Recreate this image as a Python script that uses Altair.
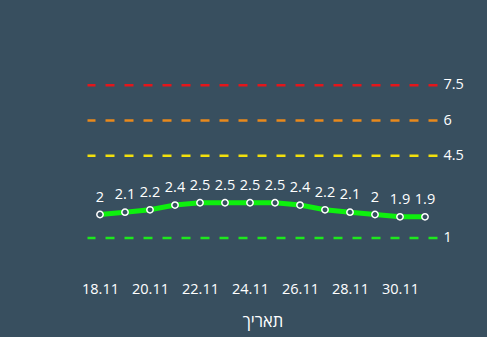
import altair as alt
import pandas as pd

dates = ["18.11", "19.11", "20.11", "21.11", "22.11", "23.11", "24.11",
         "25.11", "26.11", "27.11", "28.11", "29.11", "30.11", "1.12"]
values = [2, 2.1, 2.2, 2.4, 2.5, 2.5, 2.5, 2.5, 2.4, 2.2, 2.1, 2, 1.9, 1.9]
tick_labels = ["18.11", "20.11", "22.11", "24.11", "26.11", "28.11", "30.11"]
thresholds = [1, 4.5, 6, 7.5]
threshold_labels = ["1", "4.5", "6", "7.5"]
threshold_colors = ["#1ee81e", "#f2e00c", "#e8891c", "#e3161b"]

BG = "#384f5f"
FONT = "Open Sans"

df = pd.DataFrame({"date": dates, "value": values})
tdf = pd.DataFrame({"t": thresholds, "label": threshold_labels, "color": threshold_colors})

x = alt.X("date:O", sort=dates,
          scale=alt.Scale(type="point", padding=0.5),
          axis=alt.Axis(values=tick_labels, labelAngle=0, domain=False, ticks=False,
                        tickSize=0, grid=False, labelPadding=21, labelColor="white",
                        labelFontSize=14.5, labelFont=FONT, title="תאריך",
                        titleColor="white", titleFontSize=16.5, titleFont=FONT,
                        titleFontWeight="normal", titlePadding=17))
yscale = alt.Scale(domain=[0, 9], nice=False, zero=False)
y = alt.Y("value:Q", scale=yscale, axis=None)

rules = alt.Chart(tdf).mark_rule(strokeDash=[9, 10], strokeWidth=2.5).encode(
    y=alt.Y("t:Q", scale=yscale, axis=None),
    color=alt.Color("color:N", scale=None),
)
rule_text = alt.Chart(tdf).mark_text(align="left", baseline="middle", dx=0,
                                     fontSize=14.5, font=FONT, color="white").encode(
    x=alt.value(356),
    y=alt.Y("t:Q", scale=yscale, axis=None),
    text="label:N",
)

line = alt.Chart(df).mark_line(color="#0ef00e", strokeWidth=5).encode(x=x, y=y)
points = alt.Chart(df).mark_point(filled=True, fill=BG, stroke="white",
                                  strokeWidth=1.5, size=40, opacity=1).encode(x=x, y=y)
labels = alt.Chart(df).mark_text(dy=-17, fontSize=14.5, font=FONT, color="white",
                                 baseline="middle").encode(x=x, y=y, text="value:Q")

chart = alt.layer(rules, rule_text, line, points, labels).properties(
    width=350, height=211.5,
    background=BG,
    padding={"left": 87.5, "top": 50, "right": 49.5, "bottom": 75.5},
    autosize=alt.AutoSizeParams(type="none"),
).configure_view(stroke=None)

chart.save("out.html", embed_options={"renderer": "svg", "actions": False})
